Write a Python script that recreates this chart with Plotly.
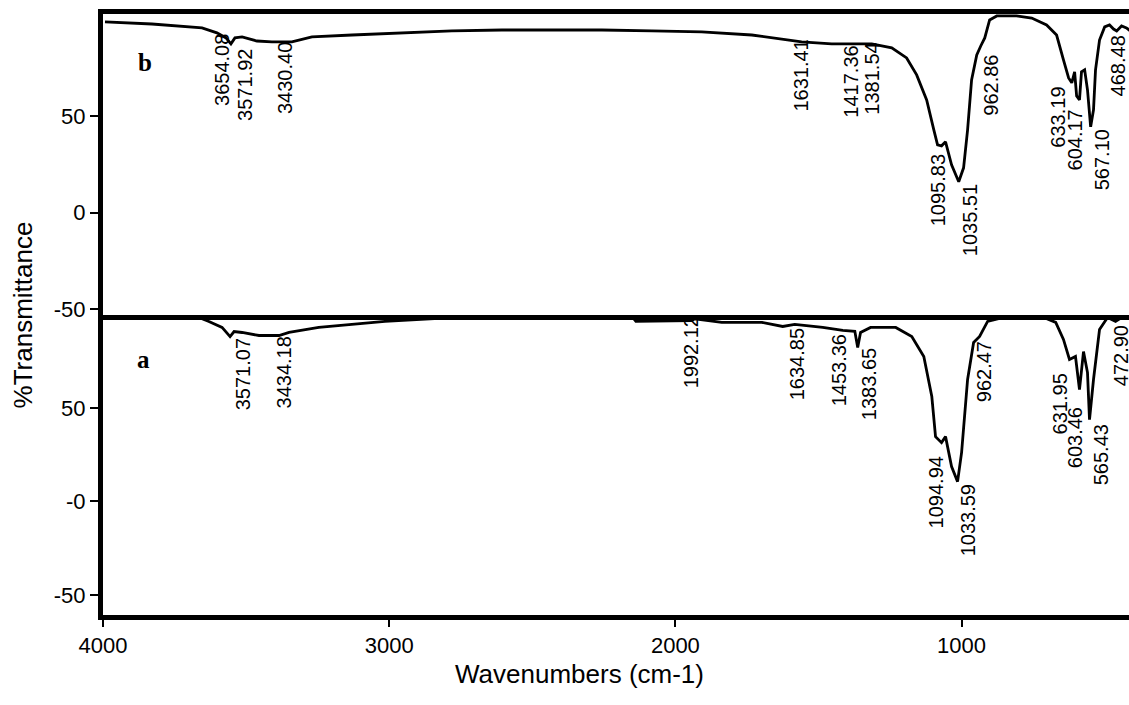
import plotly.graph_objects as go
from plotly.subplots import make_subplots

# ---------------- data ----------------
# spectrum b (upper panel)
wn_b = [3993, 3829, 3654, 3602, 3570, 3553, 3539, 3514, 3462, 3410, 3340, 3270, 3130,
        2956, 2781, 2606, 2432, 2257, 2082, 1908, 1733, 1628, 1559, 1454, 1314, 1244,
        1192, 1157, 1122, 1097, 1084, 1070, 1056, 1035, 1010, 993, 979, 965, 947, 933,
        919, 902, 877, 808, 755, 703, 668, 644, 626, 615, 605, 598, 588, 581, 570, 560,
        549, 539, 532, 518, 500, 483, 469, 458, 441, 424, 410]
t_b = [99.0, 97.9, 95.9, 93.3, 90.7, 87.6, 90.7, 91.2, 89.1, 88.6, 88.6, 91.2, 92.2,
       93.3, 94.3, 94.8, 94.8, 94.8, 94.3, 93.8, 92.2, 90.2, 88.6, 87.6, 87.6, 85.5,
       80.3, 71.5, 58.5, 43.0, 35.2, 34.7, 36.8, 24.9, 16.1, 23.3, 43.0, 68.9, 81.9, 86.5,
       90.7, 100.0, 102.1, 102.1, 101.0, 97.4, 92.2, 79.3, 69.9, 67.4, 73.1, 60.6, 58.5,
       73.1, 74.1, 63.7, 44.6, 53.4, 74.1, 89.6, 96.4, 97.4, 95.3, 94.3, 96.9, 95.9, 94.3]

# spectrum a (lower panel)
wn_a = [3993, 3829, 3654, 3630, 3584, 3556, 3542, 3514, 3455, 3385, 3350, 3246, 3130,
        3015, 2826, 2798, 2606, 2152, 2138, 1943, 1932, 1838, 1698, 1625, 1583, 1485,
        1415, 1373, 1363, 1353, 1318, 1230, 1174, 1132, 1104, 1091, 1070, 1056, 1035,
        1014, 1000, 979, 958, 937, 909, 853, 713, 671, 644, 623, 602, 588, 574, 560,
        553, 539, 518, 490, 462, 434, 410]
t_a = [97.6, 97.6, 97.6, 96.1, 92.9, 88.0, 90.7, 90.2, 88.6, 88.6, 90.2, 92.9, 94.5,
       96.1, 97.7, 98.8, 98.8, 98.8, 96.1, 96.6, 97.5, 95.6, 95.6, 93.4, 94.5, 92.9,
       91.3, 90.8, 82.2, 90.2, 92.9, 92.9, 88.1, 77.4, 56.0, 34.6, 31.4, 34.6, 18.6,
       10.6, 26.1, 65.1, 84.9, 88.1, 96.1, 98.2, 98.2, 95.6, 86.5, 75.8, 77.4, 59.7,
       80.0, 68.8, 43.7, 65.1, 91.8, 98.2, 96.1, 98.8, 98.2]

# peak labels: text, anchor wavenumber, anchor %T
lab_b = ["3654.08", "3571.92", "3430.40", "1631.41", "1417.36", "1381.54", "1095.83",
         "1035.51", "962.86", "633.19", "604.17", "567.10", "468.48"]
lab_b_wn = [3584, 3504, 3364, 1562, 1387, 1314, 1084, 972, 898, 664, 605, 511, 455]
lab_b_t = [74.1, 66.3, 69.9, 71.0, 67.9, 69.4, 11.4, -4.1, 66.3, 49.7, 37.8, 27.5, 76.2]

lab_a = ["3571.07", "3434.18", "1992.12", "1634.85", "1453.36", "1383.65", "1094.94",
         "1033.59", "962.47", "631.95", "603.46", "565.43", "472.90"]
lab_a_wn = [3508, 3368, 1946, 1576, 1429, 1325, 1091, 979, 919, 657, 605, 514, 444]
lab_a_t = [67.8, 68.8, 79.5, 73.1, 69.9, 62.4, 4.6, -10.3, 69.4, 52.2, 34.1, 25.0, 77.9]

x_ticks = [4000, 3000, 2000, 1000]
x_ticktext = ["4000", "3000", "2000", "1000"]
yb_ticks = [50, 0, -50]
yb_ticktext = ["50", "0", "-50"]
ya_ticks = [50, 0, -50]
ya_ticktext = ["50", "-0", "-50"]

# ---------------- figure ----------------
fig = make_subplots(rows=2, cols=1, shared_xaxes=True, vertical_spacing=0)

fig.add_trace(go.Scatter(x=wn_b, y=t_b, mode="lines",
                         line=dict(color="black", width=2.8), showlegend=False),
              row=1, col=1)
fig.add_trace(go.Scatter(x=wn_a, y=t_a, mode="lines",
                         line=dict(color="black", width=2.8), showlegend=False),
              row=2, col=1)

label_font = dict(family="Liberation Sans, Arial, sans-serif", size=20, color="black")
annotations = []
for txt, xx, yy in zip(lab_b, lab_b_wn, lab_b_t):
    annotations.append(dict(x=xx, y=yy, xref="x", yref="y", text=txt, textangle=-90,
                            showarrow=False, font=label_font,
                            xanchor="center", yanchor="middle"))
for txt, xx, yy in zip(lab_a, lab_a_wn, lab_a_t):
    annotations.append(dict(x=xx, y=yy, xref="x2", yref="y2", text=txt, textangle=-90,
                            showarrow=False, font=label_font,
                            xanchor="center", yanchor="middle"))

serif_bold = dict(family="Liberation Serif, Times New Roman, serif", size=25, color="black")
annotations.append(dict(x=3853, y=77.7, xref="x", yref="y", text="<b>b</b>",
                        showarrow=False, font=serif_bold))
annotations.append(dict(x=3857, y=75.8, xref="x2", yref="y2", text="<b>a</b>",
                        showarrow=False, font=serif_bold))

annotations.append(dict(x=0.464, y=-0.098, xref="paper", yref="paper",
                        text="Wavenumbers (cm-1)", showarrow=False,
                        xanchor="center", yanchor="middle",
                        font=dict(family="Liberation Sans, Arial, sans-serif",
                                  size=26, color="black")))
annotations.append(dict(x=-0.078, y=0.5, xref="paper", yref="paper",
                        text="%Transmittance", showarrow=False, textangle=-90,
                        xanchor="center", yanchor="middle",
                        font=dict(family="Liberation Sans, Arial, sans-serif",
                                  size=26, color="black")))

tick_font = dict(family="Liberation Sans, Arial, sans-serif", size=22, color="black")

fig.update_layout(
    width=1129, height=705,
    margin=dict(l=103, r=0, t=14, b=90),
    paper_bgcolor="white", plot_bgcolor="white",
    annotations=annotations,
    showlegend=False,
)

# top panel x axis (frame lines only)
fig.update_xaxes(row=1, col=1, range=[4000, 415], showgrid=False, zeroline=False,
                 showline=True, linewidth=5, linecolor="black", mirror=True,
                 ticks="", showticklabels=False)
# bottom panel x axis
fig.update_xaxes(row=2, col=1, range=[4000, 415], showgrid=False, zeroline=False,
                 showline=True, linewidth=5, linecolor="black",
                 tickmode="array", tickvals=x_ticks, ticktext=x_ticktext,
                 ticks="outside", ticklen=7, tickwidth=2, tickcolor="black",
                 tickfont=tick_font)

fig.update_yaxes(row=1, col=1, range=[-52.8, 103.1], showgrid=False, zeroline=False,
                 showline=True, linewidth=5, linecolor="black",
                 tickmode="array", tickvals=yb_ticks, ticktext=yb_ticktext,
                 ticks="outside", ticklen=8, tickwidth=2, tickcolor="black",
                 tickfont=tick_font)
fig.update_yaxes(row=2, col=1, range=[-60.6, 99.8], showgrid=False, zeroline=False,
                 showline=True, linewidth=5, linecolor="black",
                 tickmode="array", tickvals=ya_ticks, ticktext=ya_ticktext,
                 ticks="outside", ticklen=8, tickwidth=2, tickcolor="black",
                 tickfont=tick_font)

fig.write_html("out.html")
